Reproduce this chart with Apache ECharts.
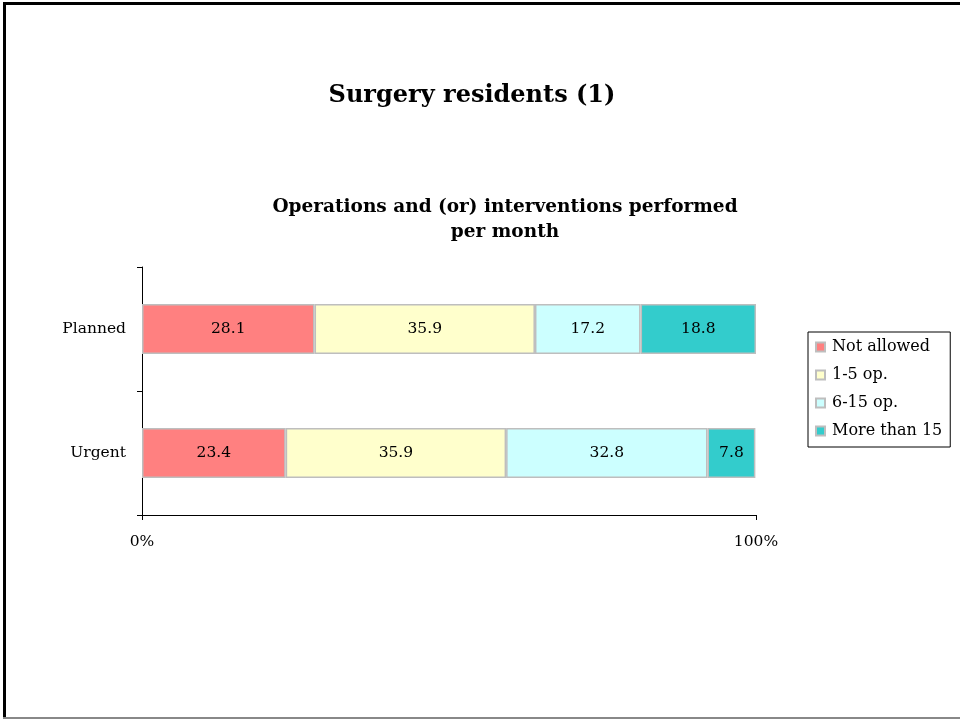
<!DOCTYPE html>
<html><head><meta charset="utf-8">
<script src="https://cdn.jsdelivr.net/npm/echarts@6/dist/echarts.min.js"></script>
<style>html,body{margin:0;padding:0;background:#fff}#c{width:960px;height:721px}</style>
</head><body><div id="c"></div>
<script>
const categories = ['Planned', 'Urgent'];
const seriesNames = ['Not allowed', '1-5 op.', '6-15 op.', 'More than 15'];
const notAllowed = [28.1, 23.4];
const op1to5 = [35.9, 35.9];
const op6to15 = [17.2, 32.8];
const moreThan15 = [18.8, 7.8];
const xTickLabels = ['0%', '100%'];
const colors = ['#FF8080', '#FFFFCC', '#CCFFFF', '#33CCCC'];
const FONT = 'DejaVu Serif, Georgia, serif';

const values = [notAllowed, op1to5, op6to15, moreThan15];
const chart = echarts.init(document.getElementById('c'));
chart.setOption({
  animation: false,
  backgroundColor: '#fff',
  title: [
    {text: 'Surgery residents (1)', left: 467, top: 79, textAlign: 'center',
     textStyle: {fontFamily: FONT, fontWeight: 'bold', fontSize: 24, color: '#000'}},
    {text: 'Operations and (or) interventions performed\nper month', left: 500, top: 190, textAlign: 'center',
     textStyle: {fontFamily: FONT, fontWeight: 'bold', fontSize: 18.5, color: '#000', lineHeight: 25}}
  ],
  legend: {
    orient: 'vertical', left: 808, top: 332,
    data: seriesNames,
    itemWidth: 9, itemHeight: 9, itemGap: 12,
    borderColor: '#000', borderWidth: 1, padding: [7, 8, 8, 7],
    icon: 'rect',
    textStyle: {fontFamily: FONT, fontSize: 16, color: '#000', padding: [0,0,0,2]}
  },
  grid: {left: 142, right: 204, top: 267, bottom: 206, containLabel: false},
  xAxis: {
    type: 'value', min: 0, max: 100, interval: 100,
    axisLine: {show: true, lineStyle: {color: '#000'}},
    axisTick: {show: true, length: 5, lineStyle: {color: '#000'}},
    splitLine: {show: false},
    axisLabel: {margin: 19, fontFamily: FONT, fontSize: 15.5, color: '#000',
      formatter: v => v === 0 ? xTickLabels[0] : xTickLabels[1]}
  },
  yAxis: {
    type: 'category', data: categories, inverse: true,
    axisLine: {show: true, lineStyle: {color: '#000'}},
    axisTick: {show: true, length: 5, lineStyle: {color: '#000'}},
    axisLabel: {margin: 16, fontFamily: FONT, fontSize: 15.5, color: '#000'}
  },
  series: seriesNames.map((n, i) => ({
    name: n, type: 'bar', stack: 'all', data: values[i], barWidth: 50,
    itemStyle: {color: colors[i], borderColor: '#BEBEBE', borderWidth: 1.5},
    label: {show: true, position: 'inside', fontFamily: FONT, fontSize: 15.5, color: '#000',
      formatter: p => p.value.toFixed(1)}
  })),
  graphic: [
    {type: 'rect', shape: {x: 3, y: 2, width: 3, height: 716}, style: {fill: '#000'}},
    {type: 'rect', shape: {x: 3, y: 2, width: 957, height: 3}, style: {fill: '#000'}},
    {type: 'rect', shape: {x: 3, y: 717, width: 957, height: 2}, style: {fill: '#888'}}
  ]
});
</script></body></html>
